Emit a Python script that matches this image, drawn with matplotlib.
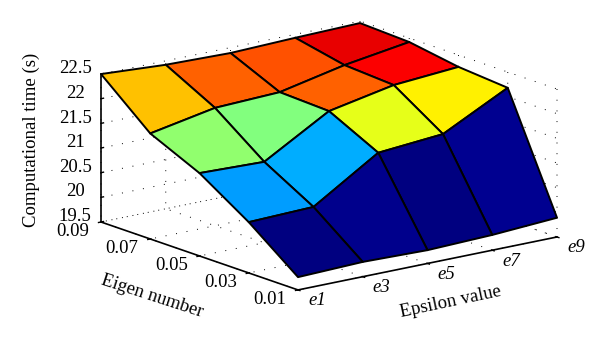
import numpy as np
import matplotlib
matplotlib.use("Agg")
import matplotlib.pyplot as plt
from matplotlib.colors import LinearSegmentedColormap, Normalize
from mpl_toolkits.mplot3d import proj3d

epsilon = [1, 3, 5, 7, 9]
epsilon_labels = ["e1", "e3", "e5", "e7", "e9"]
eigen = [0.01, 0.03, 0.05, 0.07, 0.09]
eigen_labels = ["0.01", "0.03", "0.05", "0.07", "0.09"]
z_ticks = [19.5, 20, 20.5, 21, 21.5, 22, 22.5]
z_labels = ["19.5", "20", "20.5", "21", "21.5", "22", "22.5"]
time_e001 = [19.76, 19.80, 19.77, 19.81, 19.89]
time_e003 = [20.53, 20.57, 21.40, 21.51, 22.18]
time_e005 = [21.18, 21.14, 21.90, 22.16, 22.26]
time_e007 = [21.64, 21.89, 21.94, 22.22, 22.42]
time_e009 = [22.50, 22.42, 22.39, 22.43, 22.46]

plt.rcParams["font.family"] = ["Liberation Serif", "DejaVu Serif"]
W, H = 600, 347
FS = 13.5
fig = plt.figure(figsize=(W / 100, H / 100), dpi=100)
ax = fig.add_axes([0.1, 0.1, 0.8, 0.8], projection="3d", proj_type="ortho")
ax.view_init(elev=15.4, azim=-127.6)
ax.set_box_aspect((327, 323, 153.5))

matlab_jet = LinearSegmentedColormap.from_list("matlab_jet", [
    (0.0, (0, 0, 0.5)), (0.125, (0, 0, 1)), (0.375, (0, 1, 1)),
    (0.625, (1, 1, 0)), (0.875, (1, 0, 0)), (1.0, (0.5, 0, 0))])

X, Y = np.meshgrid(epsilon, eigen)
Z = np.array([time_e001, time_e003, time_e005, time_e007, time_e009])
norm = Normalize(Z.min(), Z.max())
colors = matlab_jet(norm(Z))
ax.plot_surface(X, Y, Z, rstride=1, cstride=1, facecolors=colors, shade=False,
                edgecolor="black", linewidth=1.4, antialiased=True)

ax.set_xlim(1, 9, view_margin=0)
ax.set_ylim(0.01, 0.09, view_margin=0)
ax.set_zlim(19.5, 22.5, view_margin=0)
ax.set_xticks(epsilon)
ax.set_xticklabels(epsilon_labels, fontsize=FS, fontstyle="italic", ha="left", va="center")
ax.set_yticks(eigen)
ax.set_yticklabels(eigen_labels, fontsize=FS, ha="right", va="center")
ax.set_zticks(z_ticks)
ax.set_zticklabels(z_labels, fontsize=FS, ha="center", va="baseline")
ax.tick_params(axis="x", pad=1)
ax.tick_params(axis="y", pad=0)
ax.tick_params(axis="z", pad=2)

fig.text(451 / W, 1 - 302 / H, "Epsilon value", fontsize=FS, rotation=12,
         ha="center", va="center", rotation_mode="anchor")
fig.text(152 / W, 1 - 296 / H, "Eigen number", fontsize=FS, rotation=-18,
         ha="center", va="center", rotation_mode="anchor")
fig.text(31 / W, 1 - 140 / H, "Computational time (s)", fontsize=FS, rotation=90,
         ha="center", va="center", rotation_mode="anchor")

for axis in (ax.xaxis, ax.yaxis, ax.zaxis):
    axis.pane.set_visible(False)
    axis.line.set_color("black")
    axis.line.set_linewidth(1.2)
    axis._axinfo["grid"].update(color="black", linewidth=0.7, linestyle=(0, (1, 10)))
    axis._axinfo["tick"]["color"] = "black"
    axis._axinfo["tick"]["linewidth"] = {True: 1.0, False: 1.0}
    axis._axinfo["tick"]["inward_factor"] = 0.12
    axis._axinfo["tick"]["outward_factor"] = 0.03
ax.zaxis._axinfo["tick"]["inward_factor"] = 0.0
ax.zaxis._axinfo["tick"]["outward_factor"] = 0.12

def to_pixels(x, y, z):
    ax.apply_aspect()
    px, py, _ = proj3d.proj_transform(x, y, z, ax.get_proj())
    dx, dy = ax.transData.transform((px, py))
    return np.array([dx, H - dy])

target_a = np.array([101.0, 222.0])   # e1, 0.09, 19.5
target_b = np.array([557.0, 237.0])   # e9, 0.01, 19.5
side = 480.0
ax.set_position([0.1, 0.05, side / W, side / H])
for _ in range(3):
    a = to_pixels(1, 0.09, 19.5)
    b = to_pixels(9, 0.01, 19.5)
    side *= np.linalg.norm(target_b - target_a) / np.linalg.norm(b - a)
    ax.set_position([0.1, 0.05, side / W, side / H])
    a = to_pixels(1, 0.09, 19.5)
    box = ax.get_position(original=True)
    ax.set_position([box.x0 + (target_a[0] - a[0]) / W,
                     box.y0 - (target_a[1] - a[1]) / H, side / W, side / H])

fig.savefig("out.png", dpi=100)
